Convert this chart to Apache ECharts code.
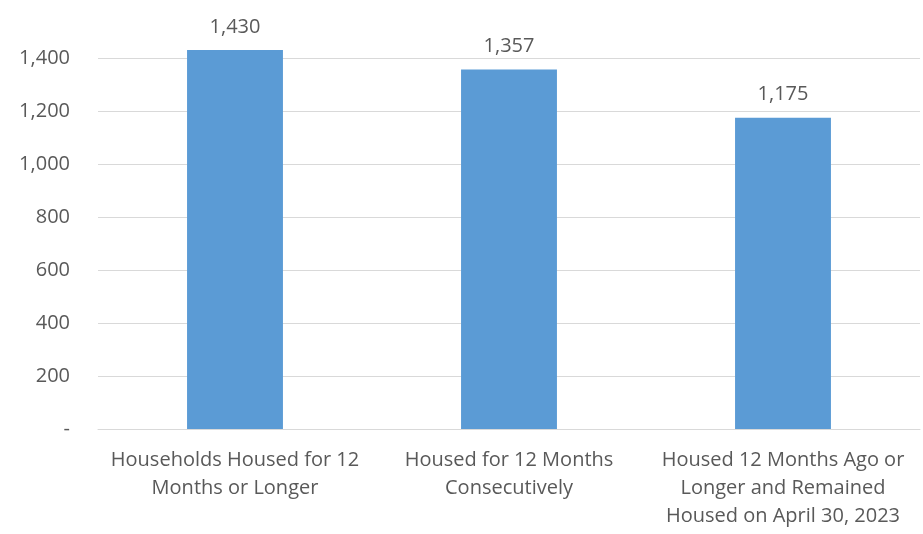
<!DOCTYPE html>
<html><head><meta charset="utf-8">
<script src="https://cdn.jsdelivr.net/npm/echarts@6/dist/echarts.min.js"></script>
<style>html,body{margin:0;padding:0;background:#fff}#c{width:923px;height:534px}</style>
</head><body><div id="c"></div>
<script>
const categories = ["Households Housed for 12\nMonths or Longer", "Housed for 12 Months\nConsecutively", "Housed 12 Months Ago or\nLonger and Remained\nHoused on April 30, 2023"];
const values = [1430, 1357, 1175];
const chart = echarts.init(document.getElementById('c'));
const font = "'Open Sans', 'Liberation Sans', sans-serif";
chart.setOption({
  animation: false,
  grid: {left: 98, right: 3, top: 58, bottom: 105},
  xAxis: {
    type: 'category', data: categories,
    axisLine: {lineStyle: {color: '#d9d9d9', width: 1}},
    axisTick: {show: false},
    axisLabel: {color: '#595959', fontSize: 20, fontFamily: font, lineHeight: 28, margin: 17, interval: 0}
  },
  yAxis: {
    type: 'value', min: 0, max: 1400, interval: 200,
    axisLine: {show: false}, axisTick: {show: false},
    splitLine: {lineStyle: {color: '#d9d9d9', width: 1}},
    axisLabel: {color: '#595959', fontSize: 20, fontFamily: font, margin: 28,
      formatter: v => v === 0 ? '-' : v.toLocaleString('en-US')}
  },
  series: [{
    type: 'bar', data: values, barWidth: '35%', clip: false,
    itemStyle: {color: '#5b9bd5'},
    label: {show: true, position: 'top', distance: 13, color: '#595959', fontSize: 20, fontFamily: font,
      formatter: p => p.value.toLocaleString('en-US')}
  }]
});
</script></body></html>
